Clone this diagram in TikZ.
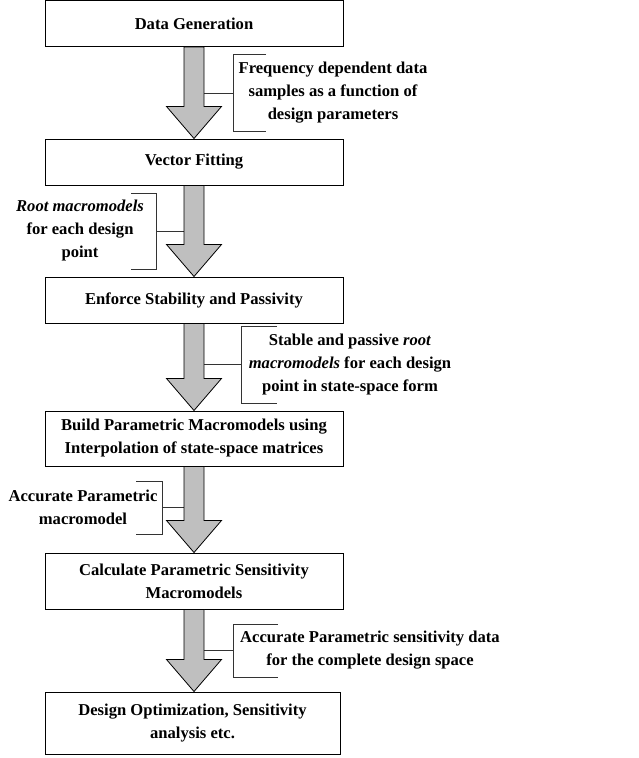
\documentclass[tikz,border=0pt]{standalone}
\usepackage{fontspec}
\setmainfont{Liberation Serif}
\usetikzlibrary{calc}

\begin{document}
\begin{tikzpicture}[
  x=1pt,y=-1pt,
  font=\bfseries\fontsize{16.6}{23}\selectfont,
  stage/.style={draw,line width=1pt,minimum width=298pt,align=center,inner sep=2pt},
  note/.style={align=center,inner sep=0pt},
  flow/.style={draw=black,fill=black!25,line width=0.8pt,line join=miter},
  brace/.style={draw=black!80,line width=0.8pt}
]
  \useasboundingbox (0,0) rectangle (639,758);

  \node[stage,minimum height=46pt] (gen) at (194,23.5) {Data Generation};
  \node[stage,minimum height=46pt] (vf) at (194,162) {Vector Fitting};
  \node[stage,minimum height=46pt] (esp) at (194,300) {Enforce Stability and Passivity};
  \node[stage,minimum height=55pt] (bpm) at (194,438.5)
    {Build Parametric Macromodels using\\Interpolation of state-space matrices};
  \node[stage,minimum height=56pt] (cps) at (194,581)
    {Calculate Parametric Sensitivity\\Macromodels};
  \node[stage,minimum width=295pt,minimum height=62pt] (opt) at (192.5,723)
    {Design Optimization, Sensitivity\\analysis etc.};

  % annotations on the arrows
  \node[note] (fdd) at (333,93)
    {Frequency dependent data\\samples as a function of\\design parameters};
  \coordinate (fddb) at (233,93);
  \draw[brace] (266,54) -- (233,54) -- (233,131) -- (266,131);
  \draw[brace] (fddb) -- (gen.south |- fddb);

  \node[note] (rmm) at (80,231)
    {\textit{Root macromodels}\\for each design\\point};
  \coordinate (rmmb) at (156,231);
  \draw[brace] (131,193) -- (156,193) -- (156,269) -- (131,269);
  \draw[brace] (rmmb) -- (vf.south |- rmmb);

  \node[note] (spm) at (350,365)
    {Stable and passive \textit{root}\\\textit{macromodels} for each design\\point in state-space form};
  \coordinate (spmb) at (241,364);
  \draw[brace] (277,326) -- (241,326) -- (241,403) -- (277,403);
  \draw[brace] (spmb) -- (esp.south |- spmb);

  \node[note] (apm) at (83,507)
    {Accurate Parametric\\macromodel};
  \coordinate (apmb) at (162,507);
  \draw[brace] (136,481) -- (162,481) -- (162,534) -- (136,534);
  \draw[brace] (apmb) -- (bpm.south |- apmb);

  \node[note] (asd) at (370,650)
    {Accurate Parametric sensitivity data\\for the complete design space};
  \coordinate (asdb) at (233,650);
  \draw[brace] (278,624) -- (233,624) -- (233,677) -- (278,677);
  \draw[brace] (asdb) -- (cps.south |- asdb);

  % block arrows between stages
  \foreach \a/\b in {gen/vf,vf/esp,esp/bpm,bpm/cps,cps/opt} {
    \coordinate (tip) at (\a.south |- \b.north);
    \draw[flow] ($(\a.south)+(-10,0)$) -- ($(tip)+(-10,-32)$)
      -- ($(tip)+(-27.5,-32)$) -- (tip) -- ($(tip)+(27.5,-32)$)
      -- ($(tip)+(10,-32)$) -- ($(\a.south)+(10,0)$) -- cycle;
  }
\end{tikzpicture}
\end{document}
